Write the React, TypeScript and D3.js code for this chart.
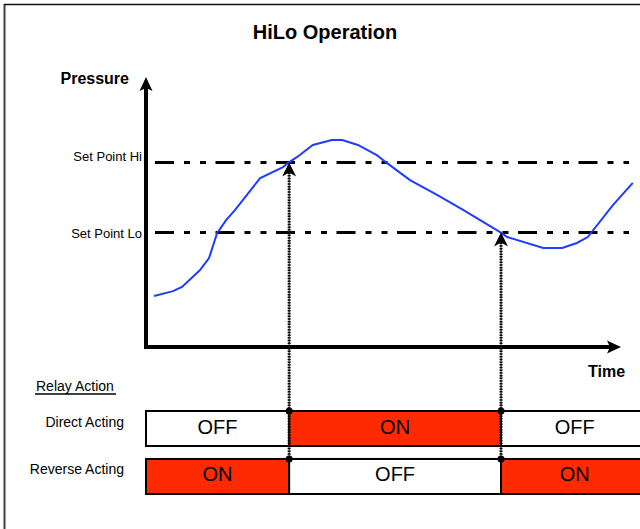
import React from 'react';
import * as d3 from 'd3';

// pressure trace (time and pressure in 0..100 units)
const timeSteps = [1.7, 5.7, 7.6, 11.4, 13.3, 15.0, 16.9, 18.8, 24.1, 28.9, 30.0, 31.9, 35.2, 39.2, 41.4, 44.7, 48.7, 50.8, 55.7, 61.4, 66.9, 70.5, 74.7, 76.2, 83.8, 87.8, 90.9, 93.2, 98.5, 102.7];
const pressure = [19.6, 21.5, 23.1, 29.6, 34.2, 43.8, 48.8, 52.7, 65.0, 69.2, 70.8, 73.1, 77.7, 79.6, 79.6, 77.7, 73.8, 70.8, 64.2, 58.5, 52.7, 48.8, 44.2, 42.3, 38.1, 38.1, 40.0, 42.3, 54.6, 63.1];

const setPointNames = ["Set Point Hi", "Set Point Lo"];
const setPointValues = [71, 44];

// relay switches when the trace crosses Hi (rising) and Lo (falling)
const switchTimes = [30.2, 74.9];
const timeEnd = 106;

const relayRows = ["Direct Acting", "Reverse Acting"];
const directActing = ["OFF", "ON", "OFF"];
const reverseActing = ["ON", "OFF", "ON"];

const font = "Arial, 'Liberation Sans', sans-serif";
const onColor = "#ff2a00";

const x = d3.scaleLinear().domain([0, 100]).range([146, 620]);
const y = d3.scaleLinear().domain([0, 100]).range([347, 87]);
const row = d3.scaleBand().domain(relayRows).range([411, 494]).paddingInner(0.27).paddingOuter(0);

export default function App() {
	const line = d3.line<number>()
		.x((d, i) => x(timeSteps[i]))
		.y((d) => y(d));

	const edges = [0, ...switchTimes, timeEnd];
	const states = [directActing, reverseActing];
	const dotted = switchTimes.map((t, i) => ({ t, level: setPointValues[i] }));
	const bottomRow = row(relayRows[1]) as number;

	return (
		<svg width={640} height={529} style={{ position: 'absolute', left: 0, top: 0, display: 'block' }}
			fontFamily={font}>
			<rect width={640} height={529} fill="#fff" />
			{/* frame */}
			<line x1={4.5} y1={4} x2={4.5} y2={529} stroke="#404040" strokeWidth={2} />
			<line x1={4} y1={4.5} x2={640} y2={4.5} stroke="#111" strokeWidth={1.3} />

			<text x={325} y={39} textAnchor="middle" fontWeight="bold" fontSize={20}>HiLo Operation</text>
			<text x={129} y={84} textAnchor="end" fontWeight="bold" fontSize={16}>Pressure</text>
			<text x={588} y={377} fontWeight="bold" fontSize={16}>Time</text>

			{/* set point lines */}
			{setPointValues.map((v, i) => (
				<g key={setPointNames[i]}>
					<line x1={155} x2={629} y1={y(v)} y2={y(v)} stroke="#000" strokeWidth={3}
						strokeDasharray="19,10,6,10,6,9.5" />
					<text x={142} y={y(v) + (i === 0 ? -1 : 5)} textAnchor="end" fontSize={13}>{setPointNames[i]}</text>
				</g>
			))}

			{/* pressure trace */}
			<path d={line(pressure) || ''} fill="none" stroke="#1f3cff" strokeWidth={2} />

			{/* axes */}
			<line x1={x(0)} y1={y(0) + 1} x2={x(0)} y2={86} stroke="#000" strokeWidth={4} />
			<path d={`M${x(0)},77 L${x(0) - 6.5},91 L${x(0)},88 L${x(0) + 6.5},91 Z`} fill="#000" />
			<line x1={x(0) - 2} y1={y(0)} x2={610} y2={y(0)} stroke="#000" strokeWidth={4} />
			<path d={`M621,${y(0)} L607,${y(0) - 6.5} L610,${y(0)} L607,${y(0) + 6.5} Z`} fill="#000" />

			{/* relay rows */}
			<text x={36} y={391} fontSize={14}>Relay Action</text>
			<line x1={35} x2={116} y1={394} y2={394} stroke="#000" strokeWidth={1.3} />
			{relayRows.map((name, r) => {
				const top = row(name) as number;
				const h = row.bandwidth();
				return (
					<g key={name}>
						<text x={124} y={top + 16 - r} textAnchor="end" fontSize={14}>{name}</text>
						{states[r].map((s, k) => (
							<g key={k}>
								<rect x={x(edges[k])} y={top} width={x(edges[k + 1]) - x(edges[k])} height={h}
									fill={s === "ON" ? onColor : "#fff"} stroke="#000" strokeWidth={2} />
								<text x={(x(edges[k]) + x(edges[k + 1])) / 2} y={top + 23 - r} textAnchor="middle" fontSize={20}>{s}</text>
							</g>
						))}
					</g>
				);
			})}

			{/* switching markers */}
			{dotted.map((d) => {
				const cx = x(d.t);
				const tip = y(d.level);
				return (
					<g key={d.t}>
						<line x1={cx} x2={cx} y1={tip + 10} y2={bottomRow} stroke="#333" strokeWidth={1} />
						<line x1={cx} x2={cx} y1={tip + 10} y2={bottomRow} stroke="#000" strokeWidth={3} strokeDasharray="1.5,1.2" />
						<path d={`M${cx},${tip} L${cx - 7},${tip + 14} L${cx},${tip + 10} L${cx + 7},${tip + 14} Z`} fill="#000" />
						{relayRows.map((name) => (
							<circle key={name} cx={cx} cy={row(name) as number} r={3.5} fill="#000" />
						))}
					</g>
				);
			})}
		</svg>
	);
}
